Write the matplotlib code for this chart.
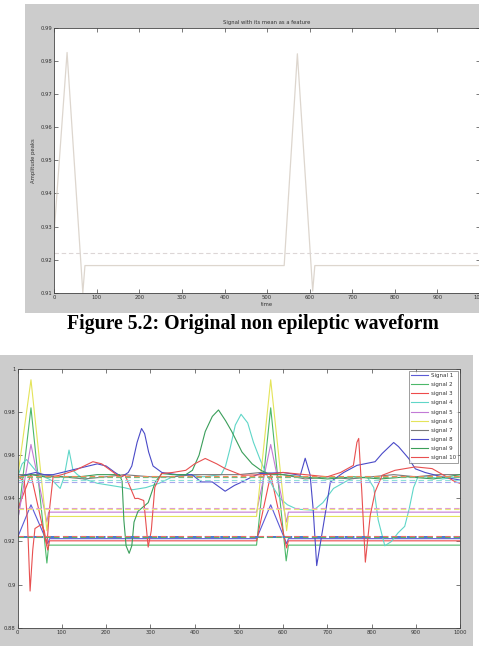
import matplotlib
matplotlib.use("Agg")
import matplotlib.pyplot as plt
from matplotlib.patches import Rectangle

# ---------------- data: top chart ----------------
top_x = [0, 30, 67, 72, 540, 571, 607, 612, 1000]
top_y = [0.9288, 0.9826, 0.9100, 0.9182, 0.9182, 0.9822, 0.9105, 0.9182, 0.9182]
top_mean = 0.9221
top_title = "Signal with its mean as a feature"
top_xlabel = "time"
top_ylabel = "Amplitude peaks"
top_yticks = [0.91, 0.92, 0.93, 0.94, 0.95, 0.96, 0.97, 0.98, 0.99]
xticks = [0, 100, 200, 300, 400, 500, 600, 700, 800, 900, 1000]

caption = "Figure 5.2: Original non epileptic waveform"

# ---------------- data: bottom chart ----------------
labels = ["Signal 1", "signal 2", "signal 3", "signal 4", "signal 5",
          "signal 6", "signal 7", "signal 8", "signal 9", "signal 10"]

s1_x = [0, 30, 68, 72, 540, 572, 608, 612, 1000]
s1_y = [0.922, 0.937, 0.919, 0.9213, 0.9213, 0.937, 0.919, 0.9213, 0.9213]

s2_x = [0, 30, 66, 70, 540, 572, 607, 612, 1000]
s2_y = [0.929, 0.982, 0.910, 0.9183, 0.9183, 0.982, 0.911, 0.9183, 0.9183]

s3_x = [0, 30, 68, 72, 540, 572, 608, 612, 1000]
s3_y = [0.935, 0.951, 0.916, 0.9203, 0.9203, 0.951, 0.917, 0.9203, 0.9203]

s4_x = [0, 10, 20, 40, 60, 80, 96, 105, 116, 125, 135, 150, 180, 210, 240, 260,
        290, 320, 350, 380, 420, 460, 470, 480, 492, 505, 520, 533, 548, 563,
        578, 593, 610, 631, 669, 690, 714, 752, 790, 805, 815, 830, 845, 860,
        875, 885, 895, 905, 930, 960, 1000]
s4_y = [0.950, 0.956, 0.958, 0.953, 0.950, 0.948, 0.9446, 0.950, 0.9624, 0.953,
        0.951, 0.949, 0.947, 0.946, 0.945, 0.944, 0.945, 0.947, 0.950, 0.951,
        0.950, 0.951, 0.955, 0.963, 0.974, 0.979, 0.975, 0.966, 0.958, 0.951,
        0.945, 0.940, 0.937, 0.935, 0.9345, 0.938, 0.9446, 0.949, 0.950, 0.945,
        0.930, 0.918, 0.920, 0.924, 0.927, 0.935, 0.945, 0.950, 0.950, 0.949,
        0.950]

s5_x = [0, 30, 66, 70, 540, 572, 608, 612, 1000]
s5_y = [0.930, 0.965, 0.929, 0.9336, 0.9336, 0.965, 0.929, 0.9336, 0.9336]

s6_x = [0, 30, 66, 70, 540, 572, 608, 612, 1000]
s6_y = [0.950, 0.995, 0.925, 0.9316, 0.9316, 0.995, 0.925, 0.9316, 0.9316]

s7_x = [0, 50, 100, 150, 200, 240, 300, 350, 400, 450, 500, 550, 600, 650,
        700, 750, 800, 850, 900, 950, 1000]
s7_y = [0.951, 0.951, 0.950, 0.949, 0.950, 0.951, 0.950, 0.950, 0.951, 0.951,
        0.951, 0.952, 0.951, 0.949, 0.950, 0.949, 0.950, 0.951, 0.950, 0.951,
        0.951]

s8_x = [0, 20, 40, 60, 80, 100, 120, 140, 160, 180, 200, 220, 235, 250, 258,
        270, 280, 287, 296, 306, 326, 360, 394, 415, 440, 469, 490, 507, 530,
        548, 600, 639, 650, 661, 668, 676, 691, 707, 737, 767, 808, 824, 850,
        861, 884, 899, 921, 959, 1000]
s8_y = [0.950, 0.951, 0.952, 0.951, 0.951, 0.952, 0.953, 0.954, 0.955, 0.956,
        0.955, 0.952, 0.950, 0.952, 0.955, 0.966, 0.9724, 0.970, 0.9615, 0.955,
        0.952, 0.951, 0.951, 0.9476, 0.9476, 0.9433, 0.946, 0.9476, 0.950,
        0.9515, 0.952, 0.9507, 0.9586, 0.951, 0.935, 0.9088, 0.9274, 0.9476,
        0.952, 0.9553, 0.957, 0.9608, 0.9659, 0.964, 0.9585, 0.9537, 0.952,
        0.950, 0.9485]

s9_x = [0, 30, 60, 100, 140, 180, 200, 230, 236, 240, 245, 252, 258, 263, 272,
        295, 311, 326, 350, 380, 395, 410, 424, 440, 454, 470, 484, 507, 530,
        550, 570, 600, 640, 700, 760, 820, 880, 940, 1000]
s9_y = [0.950, 0.951, 0.950, 0.950, 0.950, 0.951, 0.951, 0.951, 0.948, 0.930,
        0.918, 0.9145, 0.918, 0.929, 0.934, 0.938, 0.9476, 0.9515, 0.951,
        0.951, 0.953, 0.960, 0.971, 0.978, 0.981, 0.976, 0.971, 0.9615, 0.956,
        0.953, 0.951, 0.951, 0.950, 0.949, 0.950, 0.949, 0.950, 0.949, 0.951]

s10_x = [0, 15, 22, 28, 34, 39, 54, 60, 66, 72, 80, 100, 130, 150, 170, 190,
         210, 230, 243, 265, 272, 285, 295, 302, 310, 325, 350, 380, 400, 424,
         450, 469, 507, 560, 600, 650, 700, 730, 759, 767, 771, 778, 786, 797,
         808, 824, 853, 899, 937, 990, 1000]
s10_y = [0.950, 0.948, 0.930, 0.897, 0.916, 0.926, 0.928, 0.925, 0.918, 0.935,
         0.950, 0.951, 0.953, 0.955, 0.957, 0.956, 0.953, 0.950, 0.9507, 0.9399,
         0.940, 0.939, 0.9174, 0.925, 0.9452, 0.9515, 0.952, 0.953, 0.956,
         0.9585, 0.956, 0.9538, 0.9507, 0.951, 0.952, 0.951, 0.950, 0.952,
         0.9553, 0.966, 0.9678, 0.943, 0.9104, 0.932, 0.943, 0.9507, 0.953,
         0.9546, 0.9538, 0.9476, 0.947]

series_x = [s1_x, s2_x, s3_x, s4_x, s5_x, s6_x, s7_x, s8_x, s9_x, s10_x]
series_y = [s1_y, s2_y, s3_y, s4_y, s5_y, s6_y, s7_y, s8_y, s9_y, s10_y]
means = [0.9222, 0.9222, 0.9225, 0.9485, 0.9355, 0.9352, 0.9500, 0.9478, 0.9500, 0.9502]

bot_yticks = [0.88, 0.9, 0.92, 0.94, 0.96, 0.98, 1.0]
bot_yticklabels = ["0.88", "0.9", "0.92", "0.94", "0.96", "0.98", "1"]

colors = ["#5b5bd6", "#4cb86a", "#ee4b4b", "#5fd6c8", "#c27ad6",
          "#e4e45a", "#7a7a7a", "#4a4ac8", "#3a9e5a", "#e85050"]
mean_colors = ["#4a7ac8", "#4cb86a", "#ee6b6b", "#8fe0d8", "#e09ad6",
               "#e8e87a", "#a0a0a0", "#a8a8ee", "#70c080", "#f08a5a"]

W, H = 479, 646
fig = plt.figure(figsize=(W / 100, H / 100), dpi=100)
fig.patch.set_facecolor("white")

def fx(px):
    return px / W

def fy(py):
    return 1 - py / H

# gray figure panels (drawn beneath the axes)
fig.patches.append(Rectangle((fx(25), fy(313)), fx(479 - 25), (313 - 4) / H,
                             transform=fig.transFigure, facecolor="#cccccc",
                             edgecolor="none", zorder=-10))
fig.patches.append(Rectangle((0, 0), fx(473), (646 - 355) / H,
                             transform=fig.transFigure, facecolor="#cccccc",
                             edgecolor="none", zorder=-10))

def style_axes(ax):
    ax.set_facecolor("white")
    ax.set_zorder(1)
    for s in ax.spines.values():
        s.set_color("#444444")
        s.set_linewidth(0.6)
    ax.tick_params(direction="in", length=3, width=0.5, colors="#444444",
                   top=True, right=True, labelsize=3.8, pad=1.5,
                   labelcolor="#333333")

# ---------------- top chart ----------------
ax1 = fig.add_axes([fx(54.3), fy(292.7), (480 - 54.3) / W, (292.7 - 28) / H])
style_axes(ax1)
ax1.plot(top_x, top_y, color="#ddd6ce", lw=0.9)
ax1.plot([0, 1000], [top_mean, top_mean], color="#dcd6d6", lw=0.8,
         linestyle=(0, (4, 2.5)))
ax1.set_xlim(0, 1000)
ax1.set_ylim(0.91, 0.99)
ax1.set_xticks(xticks)
ax1.set_yticks(top_yticks)
ax1.set_yticklabels([f"{v:.2f}" for v in top_yticks])
ax1.set_title(top_title, fontsize=3.8, color="#333333", pad=3)
ax1.set_xlabel(top_xlabel, fontsize=3.8, color="#333333", labelpad=1.5)
ax1.set_ylabel(top_ylabel, fontsize=3.8, color="#333333", labelpad=3)

# caption
fig.text(fx(253), fy(324), caption, ha="center", va="center",
         fontsize=14.2, fontweight="bold", family="Liberation Serif",
         color="black")

# ---------------- bottom chart ----------------
ax2 = fig.add_axes([fx(17.7), fy(627.7), (460 - 17.7) / W, (627.7 - 369) / H])
style_axes(ax2)
handles = []
for i in range(10):
    h, = ax2.plot(series_x[i], series_y[i], color=colors[i], lw=0.8,
                  label=labels[i])
    handles.append(h)
for i in range(10):
    lw = 1.4 if i == 0 else 0.8
    ax2.plot([0, 1000], [means[i], means[i]], color=mean_colors[i], lw=lw,
             linestyle=(0, (5, 3)))
ax2.set_xlim(0, 1000)
ax2.set_ylim(0.88, 1.0)
ax2.set_xticks(xticks)
ax2.set_yticks(bot_yticks)
ax2.set_yticklabels(bot_yticklabels)
leg = ax2.legend(handles=handles, loc="upper right", fontsize=4.0,
                 frameon=True, fancybox=False, edgecolor="#555555",
                 handlelength=3.0, labelspacing=0.75, borderpad=0.4,
                 handletextpad=0.6, borderaxespad=0.3)
leg.get_frame().set_linewidth(0.5)
for t in leg.get_texts():
    t.set_color("#333333")

fig.savefig("out.png", dpi=100, facecolor="white")
